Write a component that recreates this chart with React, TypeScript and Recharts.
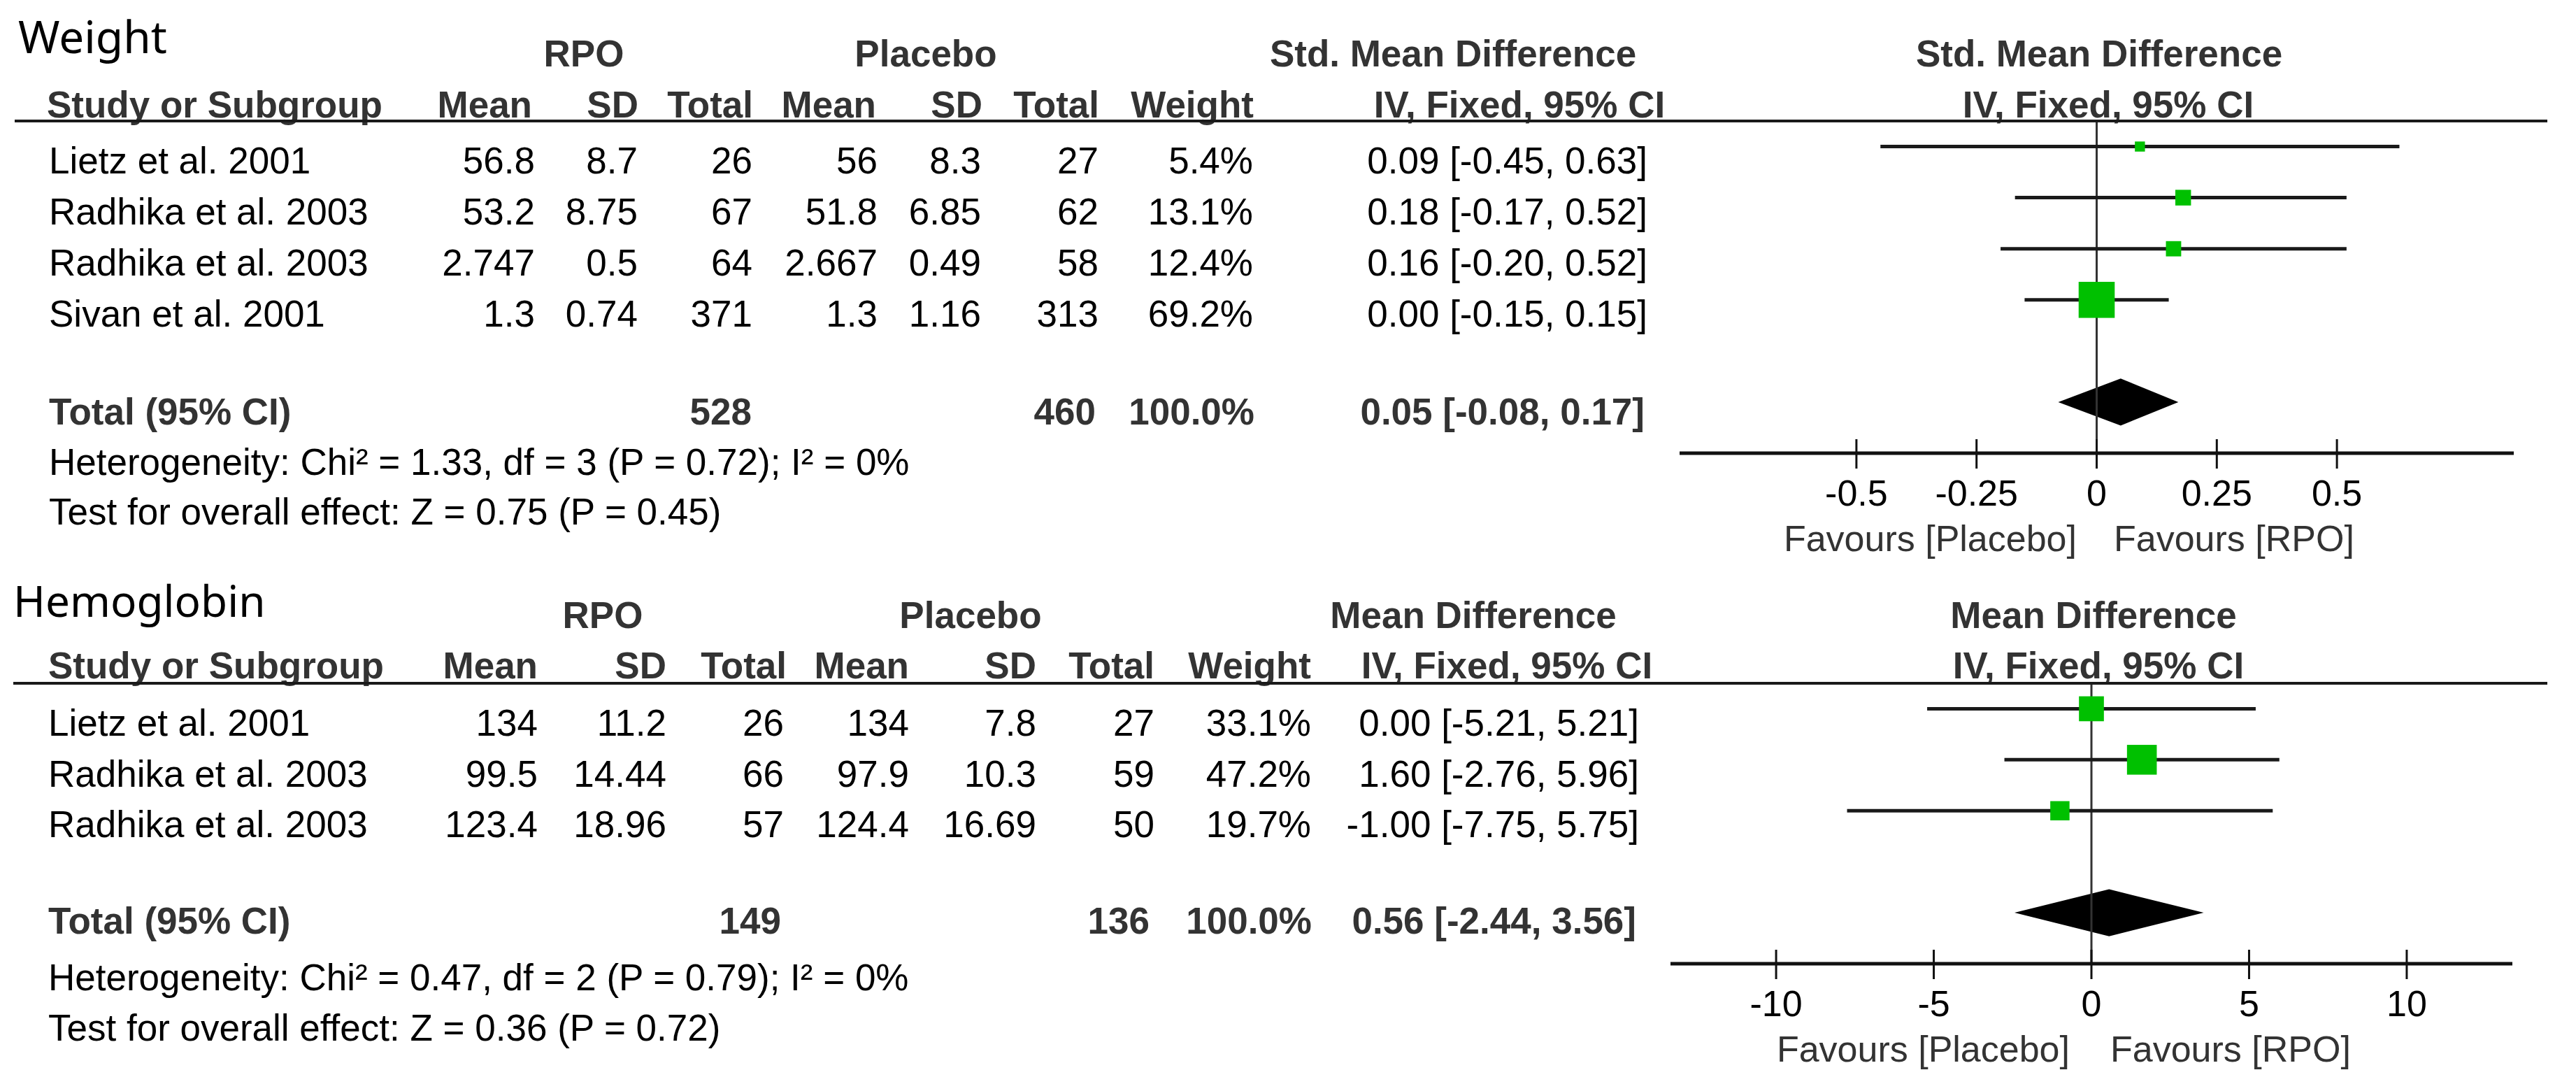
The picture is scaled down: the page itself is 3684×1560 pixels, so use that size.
import React from 'react'
import {
  Area,
  ComposedChart,
  ReferenceLine,
  Scatter,
  XAxis,
  YAxis,
} from 'recharts'

// ---- Weight (Std. Mean Difference) ----
const wStudies = ['Lietz et al. 2001', 'Radhika et al. 2003', 'Radhika et al. 2003', 'Sivan et al. 2001']
const wRpoMean = [56.8, 53.2, 2.747, 1.3]
const wRpoSd = [8.7, 8.75, 0.5, 0.74]
const wRpoN = [26, 67, 64, 371]
const wPlMean = [56, 51.8, 2.667, 1.3]
const wPlSd = [8.3, 6.85, 0.49, 1.16]
const wPlN = [27, 62, 58, 313]
const wWeight = [5.4, 13.1, 12.4, 69.2]
const wEst = [0.09, 0.18, 0.16, 0.0]
const wLo = [-0.45, -0.17, -0.2, -0.15]
const wHi = [0.63, 0.52, 0.52, 0.15]
const wTotal = { rpoN: 528, plN: 460, weight: 100, est: 0.05, lo: -0.08, hi: 0.17 }
const wHet = 'Heterogeneity: Chi² = 1.33, df = 3 (P = 0.72); I² = 0%'
const wTest = 'Test for overall effect: Z = 0.75 (P = 0.45)'
const wTicks = [-0.5, -0.25, 0, 0.25, 0.5]
const wDomain: [number, number] = [-0.868, 0.868]

// ---- Hemoglobin (Mean Difference) ----
const hStudies = ['Lietz et al. 2001', 'Radhika et al. 2003', 'Radhika et al. 2003']
const hRpoMean = [134, 99.5, 123.4]
const hRpoSd = [11.2, 14.44, 18.96]
const hRpoN = [26, 66, 57]
const hPlMean = [134, 97.9, 124.4]
const hPlSd = [7.8, 10.3, 16.69]
const hPlN = [27, 59, 50]
const hWeight = [33.1, 47.2, 19.7]
const hEst = [0.0, 1.6, -1.0]
const hLo = [-5.21, -2.76, -7.75]
const hHi = [5.21, 5.96, 5.75]
const hTotal = { rpoN: 149, plN: 136, weight: 100, est: 0.56, lo: -2.44, hi: 3.56 }
const hHet = 'Heterogeneity: Chi² = 0.47, df = 2 (P = 0.79); I² = 0%'
const hTest = 'Test for overall effect: Z = 0.36 (P = 0.72)'
const hTicks = [-10, -5, 0, 5, 10]
const hDomain: [number, number] = [-13.35, 13.35]

const FONT = '"Liberation Sans", Arial, Helvetica, sans-serif'
const GREEN = '#00c000'

const ci = (e: number, l: number, h: number) =>
  `${e.toFixed(2)} [${l.toFixed(2)}, ${h.toFixed(2)}]`

const toPoints = (est: number[], lo: number[], hi: number[], weight: number[]) =>
  est.map((x, i) => ({ x, y: i, lo: lo[i], hi: hi[i], weight: weight[i] }))

// diamond as a ranged area: tips at the CI bounds, widest at the estimate
const toDiamond = (t: { est: number; lo: number; hi: number }, row: number) => [
  { x: t.lo, band: [row, row] },
  { x: t.est, band: [row - 0.46, row + 0.46] },
  { x: t.hi, band: [row, row] },
]

const Square = (props: any) => {
  const { cx, cy, payload } = props
  if (cx == null || cy == null) return null
  const s = 6.2 * Math.sqrt(payload.weight)
  return <rect x={cx - s / 2} y={cy - s / 2} width={s} height={s} fill={GREEN} />
}

const AxisTick = (props: any) => {
  const { x, y, payload } = props
  return (
    <g>
      <line x1={x} x2={x} y1={y - 20} y2={y + 22} stroke="#111" strokeWidth={3} />
      <text x={x} y={y + 75} textAnchor="middle" fontFamily={FONT} fontSize={52} fill="#000">
        {payload.value}
      </text>
    </g>
  )
}

type ForestProps = {
  points: any[]
  diamond: any[]
  domain: [number, number]
  ticks: number[]
  rows: number
  box: { left: number; top: number; width: number; height: number }
  margin: { top: number; right: number; bottom: number; left: number }
}

const Forest = ({ points, diamond, domain, ticks, rows, box, margin }: ForestProps) => (
  <div style={{ position: 'absolute', left: box.left, top: box.top }}>
    <ComposedChart width={box.width} height={box.height} margin={margin}>
      <XAxis
        type="number"
        dataKey="x"
        domain={domain}
        ticks={ticks}
        interval={0}
        allowDataOverflow
        height={150}
        axisLine={{ stroke: '#111', strokeWidth: 5 }}
        tickLine={false}
        tickSize={0}
        tickMargin={0}
        tick={<AxisTick />}
      />
      <YAxis type="number" dataKey="y" domain={[-0.5, rows + 2]} reversed hide allowDataOverflow />
      <ReferenceLine x={0} stroke="#333" strokeWidth={3} />
      {points.map((p, i) => (
        <ReferenceLine
          key={i}
          segment={[
            { x: p.lo, y: p.y },
            { x: p.hi, y: p.y },
          ]}
          stroke="#1a1a1a"
          strokeWidth={5}
        />
      ))}
      <Area
        data={diamond}
        dataKey="band"
        type="linear"
        fill="#000"
        fillOpacity={1}
        stroke="none"
        isAnimationActive={false}
      />
      <Scatter data={points} shape={<Square />} isAnimationActive={false} />
    </ComposedChart>
  </div>
)

type TableData = {
  title: string
  effect: string
  studies: string[]
  rpoMean: number[]
  rpoSd: number[]
  rpoN: number[]
  plMean: number[]
  plSd: number[]
  plN: number[]
  weight: number[]
  est: number[]
  lo: number[]
  hi: number[]
  total: { rpoN: number; plN: number; weight: number; est: number; lo: number; hi: number }
  het: string
  test: string
}

const Table = ({ d, L }: { d: TableData; L: any }) => {
  const body = { fontFamily: FONT, fontSize: 53, fill: '#000' }
  const bold = { fontFamily: FONT, fontSize: 53, fill: '#333', fontWeight: 700 }
  const end = 'end' as const
  const mid = 'middle' as const
  return (
    <g>
      <text x={L.titleX} y={L.titleY} fontFamily='"Noto Sans", sans-serif' fontSize={L.titleSize} fill="#000">
        {d.title}
      </text>
      <text {...bold} x={L.g.rpo} y={L.groupY} textAnchor={mid}>RPO</text>
      <text {...bold} x={L.g.pl} y={L.groupY} textAnchor={mid}>Placebo</text>
      <text {...bold} x={L.g.eff} y={L.groupY} textAnchor={mid}>{d.effect}</text>
      <text {...bold} x={L.g.plotEff} y={L.groupY} textAnchor={mid}>{d.effect}</text>

      <text {...bold} x={L.h.study} y={L.headY}>Study or Subgroup</text>
      <text {...bold} x={L.h.rpoMean} y={L.headY} textAnchor={end}>Mean</text>
      <text {...bold} x={L.h.rpoSd} y={L.headY} textAnchor={end}>SD</text>
      <text {...bold} x={L.h.rpoN} y={L.headY} textAnchor={end}>Total</text>
      <text {...bold} x={L.h.plMean} y={L.headY} textAnchor={end}>Mean</text>
      <text {...bold} x={L.h.plSd} y={L.headY} textAnchor={end}>SD</text>
      <text {...bold} x={L.h.plN} y={L.headY} textAnchor={end}>Total</text>
      <text {...bold} x={L.h.weight} y={L.headY} textAnchor={end}>Weight</text>
      <text {...bold} x={L.h.iv} y={L.headY} textAnchor={mid}>IV, Fixed, 95% CI</text>
      <text {...bold} x={L.h.plotIv} y={L.headY} textAnchor={mid}>IV, Fixed, 95% CI</text>
      <line x1={L.lineX1} x2={L.lineX2} y1={L.lineY} y2={L.lineY} stroke="#1a1a1a" strokeWidth={4} />

      {d.studies.map((s, i) => {
        const y = L.rowY0 + i * L.rowStep
        return (
          <g key={i}>
            <text {...body} x={L.c.study} y={y}>{s}</text>
            <text {...body} x={L.c.rpoMean} y={y} textAnchor={end}>{d.rpoMean[i]}</text>
            <text {...body} x={L.c.rpoSd} y={y} textAnchor={end}>{d.rpoSd[i]}</text>
            <text {...body} x={L.c.rpoN} y={y} textAnchor={end}>{d.rpoN[i]}</text>
            <text {...body} x={L.c.plMean} y={y} textAnchor={end}>{d.plMean[i]}</text>
            <text {...body} x={L.c.plSd} y={y} textAnchor={end}>{d.plSd[i]}</text>
            <text {...body} x={L.c.plN} y={y} textAnchor={end}>{d.plN[i]}</text>
            <text {...body} x={L.c.weight} y={y} textAnchor={end}>{d.weight[i].toFixed(1)}%</text>
            <text {...body} x={L.c.ci} y={y} textAnchor={end}>{ci(d.est[i], d.lo[i], d.hi[i])}</text>
          </g>
        )
      })}

      <text {...bold} x={L.c.study} y={L.totalY}>Total (95% CI)</text>
      <text {...bold} x={L.t.rpoN} y={L.totalY} textAnchor={end}>{d.total.rpoN}</text>
      <text {...bold} x={L.t.plN} y={L.totalY} textAnchor={end}>{d.total.plN}</text>
      <text {...bold} x={L.t.weight} y={L.totalY} textAnchor={end}>{d.total.weight.toFixed(1)}%</text>
      <text {...bold} x={L.t.ci} y={L.totalY} textAnchor={end}>{ci(d.total.est, d.total.lo, d.total.hi)}</text>
      <text {...body} x={L.c.study} y={L.hetY}>{d.het}</text>
      <text {...body} x={L.c.study} y={L.testY}>{d.test}</text>

      <text x={L.favL} y={L.favY} textAnchor={end} fontFamily={FONT} fontSize={52} fill="#333">
        Favours [Placebo]
      </text>
      <text x={L.favR} y={L.favY} fontFamily={FONT} fontSize={52} fill="#333">
        Favours [RPO]
      </text>
    </g>
  )
}

const weightLayout = {
  titleX: 26, titleY: 76, titleSize: 64, groupY: 95, headY: 168, lineY: 173, lineX1: 21, lineX2: 3643,
  rowY0: 248, rowStep: 73, totalY: 607, hetY: 679, testY: 750,
  g: { rpo: 835, pl: 1324, eff: 2078, plotEff: 3002 },
  h: { study: 67, rpoMean: 761, rpoSd: 913, rpoN: 1077, plMean: 1253, plSd: 1405, plN: 1572, weight: 1793, iv: 2173, plotIv: 3015 },
  c: { study: 70, rpoMean: 765, rpoSd: 912, rpoN: 1076, plMean: 1255, plSd: 1403, plN: 1571, weight: 1792, ci: 2356 },
  t: { rpoN: 1075, plN: 1567, weight: 1794, ci: 2352 },
  favY: 788, favL: 2970, favR: 3023,
}

const hemoLayout = {
  titleX: 19, titleY: 882, titleSize: 62, groupY: 898, headY: 970, lineY: 977, lineX1: 19, lineX2: 3643,
  rowY0: 1052, rowStep: 72.5, totalY: 1335, hetY: 1416, testY: 1488,
  g: { rpo: 862, pl: 1388, eff: 2107, plotEff: 2994 },
  h: { study: 69, rpoMean: 769, rpoSd: 953, rpoN: 1125, plMean: 1300, plSd: 1482, plN: 1651, weight: 1875, iv: 2155, plotIv: 3001 },
  c: { study: 69, rpoMean: 769, rpoSd: 953, rpoN: 1121, plMean: 1300, plSd: 1482, plN: 1651, weight: 1875, ci: 2344 },
  t: { rpoN: 1117, plN: 1644, weight: 1876, ci: 2340 },
  favY: 1518, favL: 2960, favR: 3018,
}

const weightTable: TableData = {
  title: 'Weight', effect: 'Std. Mean Difference', studies: wStudies,
  rpoMean: wRpoMean, rpoSd: wRpoSd, rpoN: wRpoN, plMean: wPlMean, plSd: wPlSd, plN: wPlN,
  weight: wWeight, est: wEst, lo: wLo, hi: wHi, total: wTotal, het: wHet, test: wTest,
}

const hemoTable: TableData = {
  title: 'Hemoglobin', effect: 'Mean Difference', studies: hStudies,
  rpoMean: hRpoMean, rpoSd: hRpoSd, rpoN: hRpoN, plMean: hPlMean, plSd: hPlSd, plN: hPlN,
  weight: hWeight, est: hEst, lo: hLo, hi: hHi, total: hTotal, het: hHet, test: hTest,
}

export default function App() {
  return (
    <div style={{ position: 'relative', width: 3684, height: 1560, background: '#fff', overflow: 'hidden' }}>
      <style>{'body{margin:0}'}</style>
      <Forest
        points={toPoints(wEst, wLo, wHi, wWeight)}
        diamond={toDiamond(wTotal, wStudies.length + 1)}
        domain={wDomain}
        ticks={wTicks}
        rows={wStudies.length}
        box={{ left: 2300, top: 120, width: 1380, height: 720 }}
        margin={{ top: 53, right: 85, bottom: 42, left: 102 }}
      />
      <Forest
        points={toPoints(hEst, hLo, hHi, hWeight)}
        diamond={toDiamond(hTotal, hStudies.length + 1)}
        domain={hDomain}
        ticks={hTicks}
        rows={hStudies.length}
        box={{ left: 2290, top: 920, width: 1390, height: 640 }}
        margin={{ top: 57, right: 87, bottom: 32, left: 99 }}
      />
      <svg
        width={3684}
        height={1560}
        style={{ position: 'absolute', left: 0, top: 0, pointerEvents: 'none' }}
      >
        <Table d={weightTable} L={weightLayout} />
        <Table d={hemoTable} L={hemoLayout} />
      </svg>
    </div>
  )
}
